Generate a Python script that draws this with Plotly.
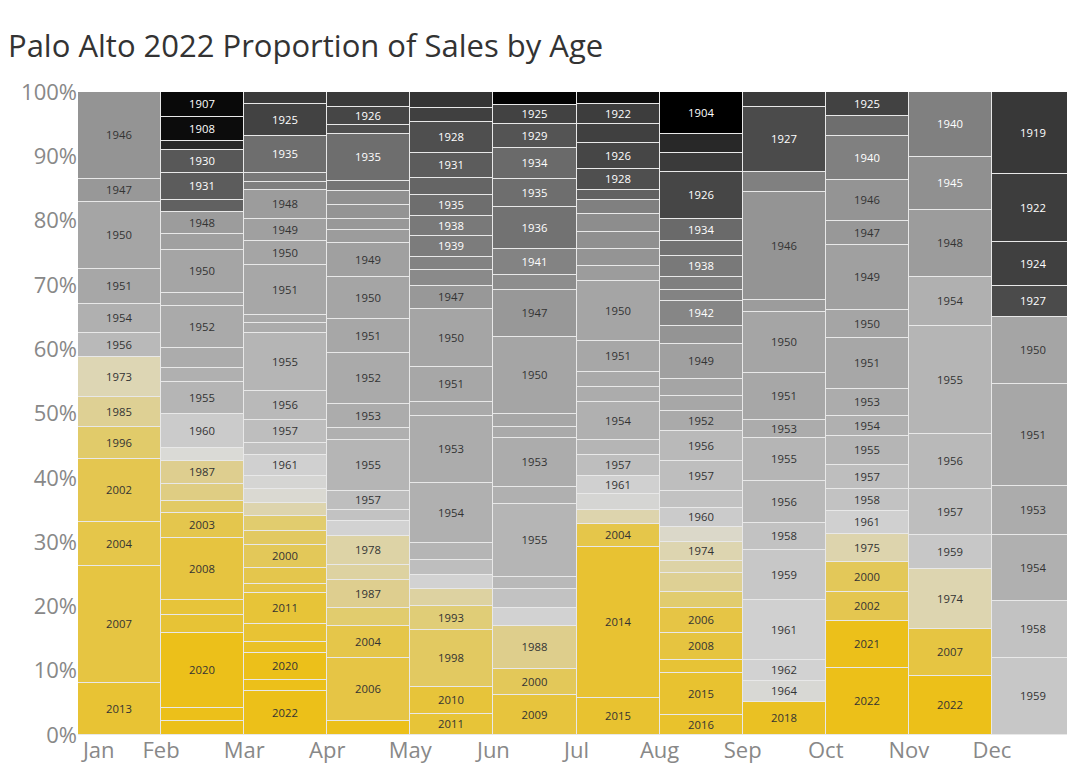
import plotly.graph_objects as go

months = ["Jan", "Feb", "Mar", "Apr", "May", "Jun", "Jul", "Aug", "Sep", "Oct", "Nov", "Dec"]

# year built and relative share of sales, listed top -> bottom of each bar
years = {
    "Jan": [1946, 1947, 1950, 1951, 1954, 1956, 1973, 1985, 1996, 2002, 2004, 2007, 2013],
    "Feb": [1907, 1908, 1915, 1930, 1931, 1932, 1948, 1949, 1950, 1951, 1952, 1953, 1954, 1955, 1960, 1965,
            1987, 1990, 1997, 2003, 2008, 2010, 2012, 2020, 2021, 2022],
    "Mar": [1920, 1925, 1935, 1938, 1940, 1948, 1949, 1950, 1951, 1952, 1953, 1955, 1956, 1957, 1958, 1961,
            1963, 1966, 1975, 1995, 1998, 2000, 2003, 2005, 2011, 2013, 2017, 2020, 2021, 2022],
    "Apr": [1920, 1926, 1928, 1935, 1937, 1945, 1946, 1947, 1948, 1949, 1950, 1951, 1952, 1953, 1954, 1955,
            1957, 1958, 1962, 1978, 1980, 1987, 1995, 2004, 2006, 2020],
    "May": [1918, 1924, 1928, 1931, 1933, 1935, 1938, 1939, 1941, 1943, 1947, 1950, 1951, 1952, 1953, 1954,
            1955, 1957, 1962, 1980, 1993, 1998, 2010, 2011],
    "Jun": [1905, 1925, 1929, 1934, 1935, 1936, 1941, 1944, 1947, 1950, 1951, 1952, 1953, 1954, 1955, 1956,
            1958, 1962, 1988, 2000, 2009],
    "Jul": [1908, 1922, 1924, 1926, 1928, 1932, 1940, 1944, 1945, 1946, 1948, 1950, 1951, 1952, 1953, 1954,
            1955, 1957, 1961, 1963, 1975, 2004, 2014, 2015],
    "Aug": [1904, 1915, 1920, 1926, 1934, 1936, 1938, 1940, 1941, 1942, 1946, 1949, 1950, 1951, 1952, 1956,
            1957, 1958, 1960, 1968, 1974, 1978, 1985, 1995, 2006, 2008, 2012, 2015, 2016],
    "Sep": [1920, 1927, 1940, 1946, 1948, 1950, 1951, 1953, 1955, 1956, 1958, 1959, 1961, 1962, 1964, 2018],
    "Oct": [1925, 1935, 1940, 1946, 1947, 1949, 1950, 1951, 1953, 1954, 1955, 1957, 1958, 1961, 1975, 2000,
            2002, 2021, 2022],
    "Nov": [1940, 1945, 1948, 1954, 1955, 1956, 1957, 1959, 1974, 2007, 2022],
    "Dec": [1919, 1922, 1924, 1927, 1950, 1951, 1953, 1954, 1958, 1959],
}
shares = {
    "Jan": [87, 23, 67, 35, 29, 24, 40, 30, 32, 63, 44, 117, 52],
    "Feb": [60, 57, 23, 55, 65, 30, 52, 38, 105, 32, 101, 47, 35, 77, 81, 32, 55, 42, 28, 60, 150, 35, 45,
            180, 32, 33],
    "Mar": [30, 75, 90, 23, 19, 68, 53, 58, 122, 20, 22, 140, 70, 55, 30, 50, 33, 32, 32, 36, 35, 54, 38, 22,
            76, 42, 27, 66, 25, 107],
    "Apr": [35, 45, 22, 113, 23, 34, 33, 27, 33, 82, 100, 83, 123, 57, 28, 124, 45, 26, 37, 70, 37, 66, 44,
            78, 152, 33],
    "May": [38, 35, 74, 60, 41, 52, 47, 51, 32, 37, 55, 141, 84, 35, 161, 145, 39, 38, 32, 43, 58, 137, 65, 50],
    "Jun": [32, 46, 58, 74, 67, 101, 62, 38, 112, 185, 33, 27, 117, 40, 176, 29, 46, 44, 103, 63, 97],
    "Jul": [30, 48, 44, 64, 51, 23, 35, 43, 40, 42, 35, 145, 76, 36, 36, 90, 37, 50, 45, 38, 34, 56, 362, 90],
    "Aug": [102, 46, 44, 115, 53, 35, 50, 32, 28, 60, 42, 85, 40, 38, 48, 72, 73, 40, 45, 37, 45, 30, 45, 38,
            62, 63, 32, 102, 48],
    "Sep": [35, 158, 47, 262, 28, 148, 112, 45, 102, 103, 63, 122, 143, 52, 50, 80],
    "Oct": [58, 47, 107, 100, 58, 155, 68, 124, 65, 48, 70, 56, 54, 55, 68, 72, 70, 113, 162],
    "Nov": [157, 128, 162, 118, 260, 131, 111, 83, 145, 113, 142],
    "Dec": [198, 164, 106, 75, 162, 245, 118, 160, 137, 185],
}
labeled = {
    "Jan": years["Jan"],
    "Feb": [1907, 1908, 1930, 1931, 1948, 1950, 1952, 1955, 1960, 1987, 2003, 2008, 2020],
    "Mar": [1925, 1935, 1948, 1949, 1950, 1951, 1955, 1956, 1957, 1961, 2000, 2011, 2020, 2022],
    "Apr": [1926, 1935, 1949, 1950, 1951, 1952, 1953, 1955, 1957, 1978, 1987, 2004, 2006],
    "May": [1928, 1931, 1935, 1938, 1939, 1947, 1950, 1951, 1953, 1954, 1993, 1998, 2010, 2011],
    "Jun": [1925, 1929, 1934, 1935, 1936, 1941, 1947, 1950, 1953, 1955, 1988, 2000, 2009],
    "Jul": [1922, 1926, 1928, 1950, 1951, 1954, 1957, 1961, 2004, 2014, 2015],
    "Aug": [1904, 1926, 1934, 1938, 1942, 1949, 1952, 1956, 1957, 1960, 1974, 2006, 2008, 2015, 2016],
    "Sep": [1927, 1946, 1950, 1951, 1953, 1955, 1956, 1958, 1959, 1961, 1962, 1964, 2018],
    "Oct": [y for y in years["Oct"] if y != 1935],
    "Nov": years["Nov"],
    "Dec": years["Dec"],
}
pct_ticks = list(range(0, 101, 10))

# grey -> beige -> gold scale keyed by year
stops = [(1904, (0, 0, 0)), (1908, (12, 12, 12)), (1919, (56, 56, 56)), (1925, (66, 66, 66)),
         (1930, (88, 88, 88)), (1935, (110, 110, 110)), (1940, (128, 128, 128)), (1945, (144, 144, 144)),
         (1948, (156, 156, 156)), (1950, (165, 165, 165)), (1953, (172, 172, 172)), (1955, (181, 181, 181)),
         (1958, (194, 194, 194)), (1961, (208, 208, 208)), (1965, (218, 218, 214)), (1974, (221, 213, 176)),
         (1988, (222, 206, 140)), (1995, (225, 204, 110)), (2002, (228, 198, 80)), (2010, (231, 196, 58)),
         (2015, (232, 194, 48)), (2020, (236, 192, 26)), (2022, (236, 192, 25))]


def year_color(y):
    for (y0, c0), (y1, c1) in zip(stops, stops[1:]):
        if y <= y1:
            t = max(0, (y - y0) / (y1 - y0))
            c = [round(a + (b - a) * t) for a, b in zip(c0, c1)]
            return "rgb(%d,%d,%d)" % tuple(c)
    return "rgb(236,192,25)"


fig = go.Figure()
for i, m in enumerate(months):
    ys = list(reversed(years[m]))
    ws = list(reversed(shares[m]))
    for y, w in zip(ys, ws):
        fig.add_trace(go.Bar(
            x=[i + 0.5], y=[w], width=1,
            marker=dict(color=year_color(y), line=dict(color="#e8e8e8", width=1)),
            text=[str(y) if y in labeled[m] else ""],
            textposition="inside", insidetextanchor="middle", textangle=0,
            textfont=dict(size=12, color="white" if y <= 1945 else "#333333", family="Open Sans"),
            hoverinfo="skip", showlegend=False))

fig.update_layout(
    barmode="stack", barnorm="percent", bargap=0,
    width=1067, height=768, margin=dict(l=70, r=0, t=84, b=41),
    plot_bgcolor="white", paper_bgcolor="white",
    title=dict(text="Palo Alto 2022 Proportion of Sales by Age", x=0, y=0.965, xanchor="left",
               font=dict(size=31, color="#333333", family="Open Sans")),
    uniformtext=dict(minsize=11, mode="show"),
)
fig.update_xaxes(range=[0, 12], tickvals=[0.25] + list(range(1, 12)), ticktext=months,
                 showgrid=False, tickfont=dict(size=22, color="#888888", family="Open Sans"))
fig.update_yaxes(range=[0, 100], tickvals=pct_ticks, ticktext=["%d%%" % v for v in pct_ticks],
                 showgrid=False, tickfont=dict(size=22, color="#888888", family="Open Sans"))

fig.write_html("out.html")
